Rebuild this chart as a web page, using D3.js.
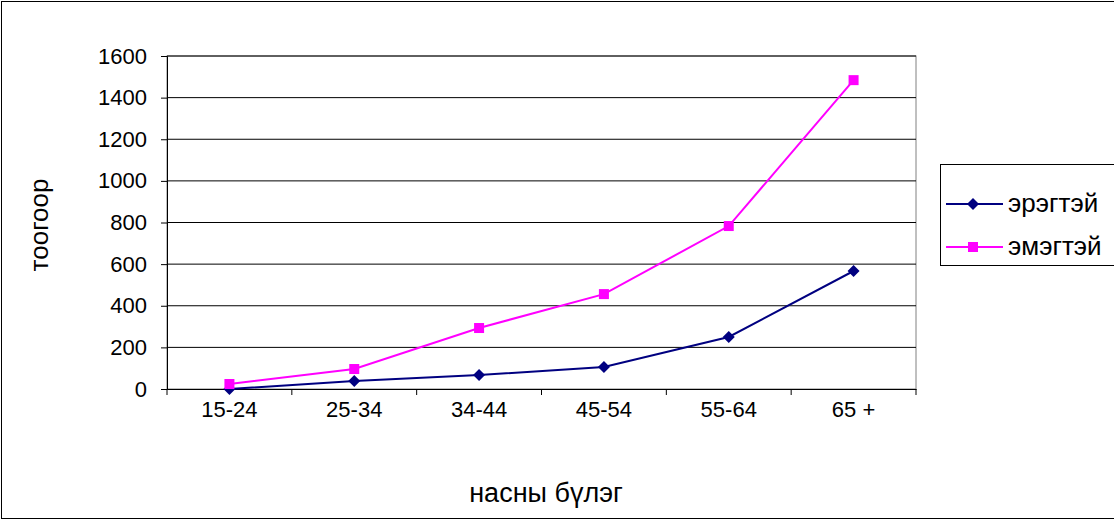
<!DOCTYPE html>
<html><head><meta charset="utf-8">
<script src="https://cdn.jsdelivr.net/npm/d3@7"></script>
<style>body{margin:0;background:#fff}svg{display:block;font-family:"Liberation Sans",Arial,sans-serif}
svg text{font-size:22px;fill:#000}</style>
</head><body><div id="chart"></div>
<script>
(function(){
const categories = ['15-24','25-34','34-44','45-54','55-64','65 +'];
const maleValues = [0, 38, 67, 106, 250, 567];
const femaleValues = [24, 96, 293, 456, 783, 1484];
const yTicks = [0,200,400,600,800,1000,1200,1400,1600];
const seriesNames = ['эрэгтэй','эмэгтэй'];

const W = 1114, H = 520;
const svg = d3.select('#chart').append('svg').attr('width', W).attr('height', H);
svg.append('rect').attr('x',1.5).attr('y',1.5).attr('width',W+10).attr('height',H-3)
  .attr('fill','#fff').attr('stroke','#000');

const pLeft = 167, pRight = 916, pTop = 56, pBottom = 389;
const x = d3.scaleBand().domain(categories).range([pLeft, pRight]);
const y = d3.scaleLinear().domain([0,1600]).range([pBottom, pTop]);

svg.append('rect').attr('x',pLeft).attr('y',pTop).attr('width',pRight-pLeft).attr('height',pBottom-pTop)
  .attr('fill','none').attr('stroke','#808080');
svg.selectAll('.grid').data(yTicks.slice(1)).enter().append('line')
  .attr('x1',pLeft).attr('x2',pRight).attr('y1',d=>y(d)).attr('y2',d=>y(d)).attr('stroke','#000');

const yAxis = svg.append('g').attr('transform',`translate(${pLeft},0)`)
  .call(d3.axisLeft(y).tickValues(yTicks).tickFormat(d3.format('d')).tickSize(6).tickPadding(14));
yAxis.select('.domain').attr('stroke','#000');

const xAxis = svg.append('g').attr('transform',`translate(0,${pBottom})`)
  .call(d3.axisBottom(x).tickSize(0).tickPadding(12));
xAxis.select('.domain').attr('stroke','#000');
svg.selectAll('.xt').data(d3.range(categories.length+1)).enter().append('line')
  .attr('x1',i=>pLeft+i*x.bandwidth()).attr('x2',i=>pLeft+i*x.bandwidth())
  .attr('y1',pBottom).attr('y2',pBottom+6).attr('stroke','#000');

svg.append('text').attr('x',546).attr('y',502).attr('text-anchor','middle').style('font-size','27px').text('насны бүлэг');
svg.append('text').attr('transform','translate(48,225) rotate(-90)').attr('text-anchor','middle').style('font-size','26px').text('тоогоор');

const cx = d => x(d) + x.bandwidth()/2;
const line = d3.line().x((d,i)=>cx(categories[i])).y(d=>y(d));
svg.append('path').datum(maleValues).attr('d',line).attr('fill','none').attr('stroke','#000080').attr('stroke-width',2);
svg.append('path').datum(femaleValues).attr('d',line).attr('fill','none').attr('stroke','#ff00ff').attr('stroke-width',2);
const diamond = d3.symbol().type(d3.symbolSquare).size(72);
svg.selectAll('.m').data(maleValues).enter().append('path')
  .attr('d', diamond).attr('transform',(d,i)=>`translate(${cx(categories[i])},${y(d)}) rotate(45)`)
  .attr('fill','#000080');
svg.selectAll('.f').data(femaleValues).enter().append('rect')
  .attr('x',(d,i)=>cx(categories[i])-5).attr('y',d=>y(d)-5).attr('width',10).attr('height',10)
  .attr('fill','#ff00ff');

svg.append('rect').attr('x',940.5).attr('y',164.5).attr('width',180).attr('height',101).attr('fill','#fff').attr('stroke','#000');
const lg = [{c:'#000080',s:'d'},{c:'#ff00ff',s:'s'}];
lg.forEach((l,i)=>{
  const ly = 204 + i*43;
  svg.append('line').attr('x1',946).attr('x2',1003).attr('y1',ly).attr('y2',ly).attr('stroke',l.c).attr('stroke-width',2);
  if(l.s==='d') svg.append('path').attr('d',diamond).attr('transform',`translate(973,${ly}) rotate(45)`).attr('fill',l.c);
  else svg.append('rect').attr('x',968).attr('y',ly-5).attr('width',10).attr('height',10).attr('fill',l.c);
  svg.append('text').attr('x',1008).attr('y',ly+8).style('font-size','26px').text(seriesNames[i]);
});
})();
</script></body></html>
